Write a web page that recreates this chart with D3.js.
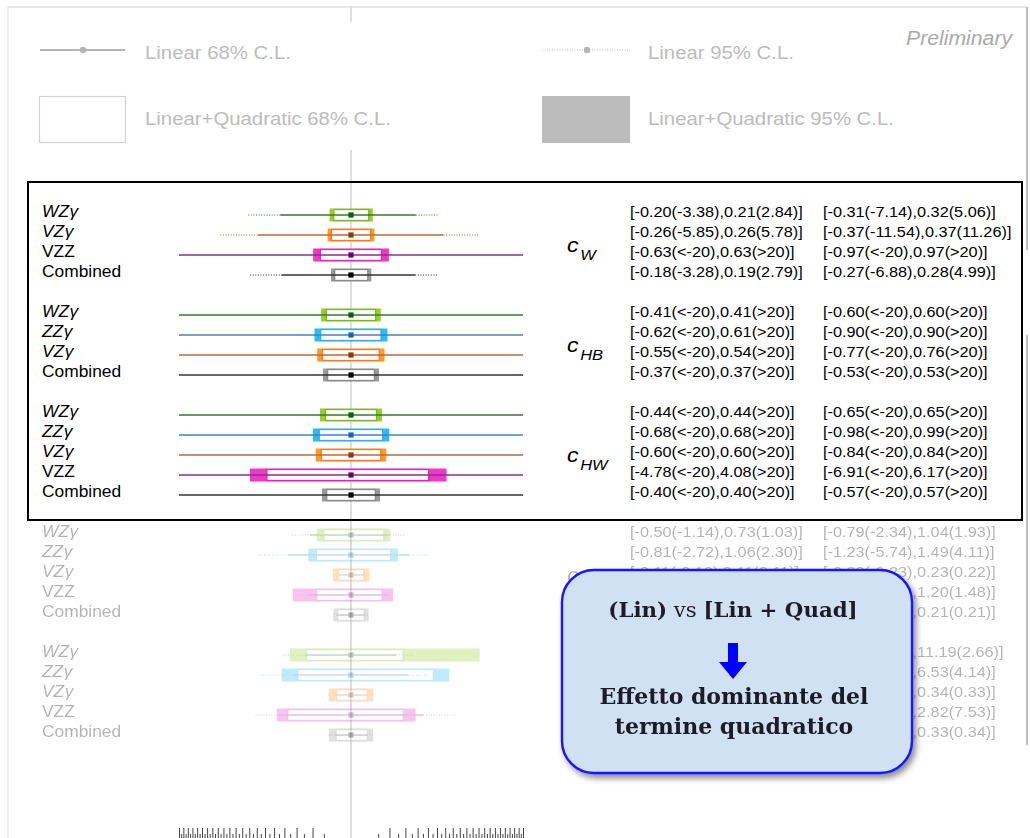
<!DOCTYPE html>
<html>
<head>
<meta charset="utf-8">
<script src="https://cdn.jsdelivr.net/npm/d3@7"></script>
<style>
  html, body { margin: 0; padding: 0; background: #fff; }
  svg { display: block; }
</style>
</head>
<body>
<svg id="chart" width="1030" height="838"></svg>
<script>
// ---- data -------------------------------------------------------------
// Coefficients (one block each) and the processes fitted in every block
const coefficients = ["W", "HB", "HW", "WWW", "B"];
const blockProcesses = [
  ["WZγ", "VZγ", "VZZ", "Combined"],
  ["WZγ", "ZZγ", "VZγ", "Combined"],
  ["WZγ", "ZZγ", "VZγ", "VZZ", "Combined"],
  ["WZγ", "ZZγ", "VZγ", "VZZ", "Combined"],
  ["WZγ", "ZZγ", "VZγ", "VZZ", "Combined"]
];
const INF = Infinity;
// Linear+Quadratic 68% C.L. interval [lo, hi]
const quad68 = [
  [[-0.20, 0.21], [-0.26, 0.26], [-0.63, 0.63], [-0.18, 0.19]],
  [[-0.41, 0.41], [-0.62, 0.61], [-0.55, 0.54], [-0.37, 0.37]],
  [[-0.44, 0.44], [-0.68, 0.68], [-0.60, 0.60], [-4.78, 4.08], [-0.40, 0.40]],
  [[-0.50, 0.73], [-0.81, 1.06], [-0.11, 0.11], [-0.79, 0.66], [-0.12, 0.12]],
  [[-1.32, 1.84], [-1.91, 4.58], [-0.14, 0.18], [-2.71, 1.84], [-0.15, 0.18]]
];
// Linear 68% C.L. interval
const lin68 = [
  [[-3.38, 2.84], [-5.85, 5.78], [-INF, INF], [-3.28, 2.79]],
  [[-INF, INF], [-INF, INF], [-INF, INF], [-INF, INF]],
  [[-INF, INF], [-INF, INF], [-INF, INF], [-INF, INF], [-INF, INF]],
  [[-1.14, 1.03], [-2.72, 2.30], [-0.12, 0.11], [-1.26, 0.97], [-0.12, 0.12]],
  [[-1.40, 1.38], [-2.25, 2.21], [-0.17, 0.17], [-3.60, 3.53], [-0.17, 0.17]]
];
// Linear+Quadratic 95% C.L. interval
const quad95 = [
  [[-0.31, 0.32], [-0.37, 0.37], [-0.97, 0.97], [-0.27, 0.28]],
  [[-0.60, 0.60], [-0.90, 0.90], [-0.77, 0.76], [-0.53, 0.53]],
  [[-0.65, 0.65], [-0.98, 0.99], [-0.84, 0.84], [-6.91, 6.17], [-0.57, 0.57]],
  [[-0.79, 1.04], [-1.23, 1.49], [-0.22, 0.23], [-2.29, 1.20], [-0.21, 0.21]],
  [[-2.54, 11.19], [-3.25, 6.53], [-0.33, 0.34], [-3.73, 2.82], [-0.33, 0.33]]
];
// Linear 95% C.L. interval
const lin95 = [
  [[-7.14, 5.06], [-11.54, 11.26], [-INF, INF], [-6.88, 4.99]],
  [[-INF, INF], [-INF, INF], [-INF, INF], [-INF, INF]],
  [[-INF, INF], [-INF, INF], [-INF, INF], [-INF, INF], [-INF, INF]],
  [[-2.34, 1.93], [-5.74, 4.11], [-0.23, 0.22], [-1.87, 1.48], [-0.21, 0.21]],
  [[-3.15, 2.66], [-5.90, 4.14], [-0.35, 0.33], [-6.15, 7.53], [-0.34, 0.34]]
];
const bestFit = 0;
const axisLimit = 20;
const tickStep = 0.5;
const legendLabels = ["Linear 68% C.L.", "Linear 95% C.L.",
                      "Linear+Quadratic 68% C.L.", "Linear+Quadratic 95% C.L."];
const calloutLines = ["Effetto dominante del", "termine quadratico"];

// ---- styles -----------------------------------------------------------
const processStyle = {
  "WZγ":      { line: "#2f7d2a", fill: "#9acd2a", stroke: "#7cb43a", dot: "#0b5e0b", italic: true },
  "ZZγ":      { line: "#3f82c2", fill: "#26bdf8", stroke: "#43a6e6", dot: "#1d5fc4", italic: true },
  "VZγ":      { line: "#b8683a", fill: "#ff9a22", stroke: "#ee7c32", dot: "#8a3a0c", italic: true },
  "VZZ":      { line: "#8b2f8b", fill: "#ee38c8", stroke: "#cf2fb5", dot: "#5c0c5c", italic: false },
  "Combined": { line: "#333333", fill: "#9a9a9a", stroke: "#8a8a8a", dot: "#000000", italic: false }
};
const SX = 1.1;            // horizontal stretch of the figure lettering
const FONT = "'Liberation Sans', Arial, Helvetica, sans-serif";

const svg = d3.select("#chart");
const defs = svg.append("defs");
const shadow = defs.append("filter").attr("id", "shadow")
  .attr("x", "-10%").attr("y", "-10%").attr("width", "130%").attr("height", "130%");
shadow.append("feDropShadow").attr("dx", 3).attr("dy", 4)
  .attr("stdDeviation", 3).attr("flood-color", "#000").attr("flood-opacity", 0.45);

// ---- scales -----------------------------------------------------------
const x = d3.scalePow().exponent(0.5)
  .domain([-axisLimit, axisLimit]).range([179, 523]).clamp(true);
const xv = v => x(Math.max(-axisLimit, Math.min(axisLimit, v)));
const slotY = d3.scaleLinear().domain([0, 1]).range([215, 235]);

// flatten rows into slots: one empty slot between blocks
const rows = [];
let slot = 0;
const blockInfo = [];
blockProcesses.forEach((procs, b) => {
  const first = slot;
  procs.forEach((p, i) => {
    rows.push({ block: b, proc: p, slot,
      q68: quad68[b][i], l68: lin68[b][i], q95: quad95[b][i], l95: lin95[b][i] });
    slot++;
  });
  blockInfo.push({ block: b, first, last: slot - 1 });
  slot++;
});

function stext(g, px, py, str) {
  return g.append("text")
    .attr("transform", `translate(${px},${py}) scale(${SX},1)`)
    .attr("font-family", FONT)
    .text(str);
}
const fmt = v => v === -INF ? "<-20" : v === INF ? ">20" : v.toFixed(2);
const intervalText = (q, l) => `[${fmt(q[0])}(${fmt(l[0])}),${fmt(q[1])}(${fmt(l[1])})]`;

// ---- slide frame -------------------------------------------------------
const frame = svg.append("g");
frame.append("line").attr("x1", 8).attr("x2", 1027).attr("y1", 7).attr("y2", 7)
  .attr("stroke", "#cfcfcf").attr("stroke-width", 1.2);
frame.append("line").attr("x1", 8).attr("x2", 8).attr("y1", 7).attr("y2", 838)
  .attr("stroke", "#e2e2e2").attr("stroke-width", 1.2);
frame.append("line").attr("x1", 1027).attr("x2", 1027).attr("y1", 7).attr("y2", 250)
  .attr("stroke", "#bdbdbd").attr("stroke-width", 2);
frame.append("line").attr("x1", 1027).attr("x2", 1027).attr("y1", 335).attr("y2", 745)
  .attr("stroke", "#bdbdbd").attr("stroke-width", 2);

// zero reference line
const zeroLine = svg.append("g");
zeroLine.append("line").attr("x1", x(0)).attr("x2", x(0)).attr("y1", 7).attr("y2", 22)
  .attr("stroke", "#d6d6d6").attr("stroke-width", 1.6);
zeroLine.append("line").attr("x1", x(0)).attr("x2", x(0)).attr("y1", 150).attr("y2", 838)
  .attr("stroke", "#d6d6d6").attr("stroke-width", 1.6);

// ---- legend (greyed) ---------------------------------------------------
const legend = svg.append("g");
legend.append("line").attr("x1", 40).attr("x2", 125).attr("y1", 50).attr("y2", 50)
  .attr("stroke", "#b5b5b5").attr("stroke-width", 2);
legend.append("circle").attr("cx", 83).attr("cy", 50).attr("r", 3.2).attr("fill", "#b5b5b5");
legend.append("line").attr("x1", 542).attr("x2", 630).attr("y1", 50).attr("y2", 50)
  .attr("stroke", "#c0c0c0").attr("stroke-width", 1).attr("stroke-dasharray", "1,1.5");
legend.append("circle").attr("cx", 587).attr("cy", 50).attr("r", 3.2).attr("fill", "#b5b5b5");
legend.append("rect").attr("x", 39.5).attr("y", 96.5).attr("width", 86).attr("height", 46)
  .attr("fill", "#fff").attr("stroke", "#d2d2d2").attr("stroke-width", 1.2);
legend.append("rect").attr("x", 542).attr("y", 96).attr("width", 88).attr("height", 47)
  .attr("fill", "#bcbcbc");
[[145, 59], [648, 59], [145, 125], [648, 125]].forEach((p, i) => {
  stext(legend, p[0], p[1], legendLabels[i]).attr("font-size", 18.5).attr("fill", "#bcbcbc");
});
stext(svg, 906, 45, "Preliminary").attr("font-size", 19.3)
  .attr("font-style", "italic").attr("fill", "#ababab");

// ---- blocks ------------------------------------------------------------
const blockGroups = blockInfo.map(bi =>
  svg.append("g").attr("opacity", bi.block >= 3 ? 0.3 : 1));

rows.forEach(r => {
  const g = blockGroups[r.block];
  const y = slotY(r.slot);
  const st = processStyle[r.proc];
  const h95 = 13, h68 = 11;

  // Linear+Quadratic 95% band
  g.append("rect")
    .attr("x", xv(r.q95[0])).attr("width", xv(r.q95[1]) - xv(r.q95[0]))
    .attr("y", y - h95 / 2).attr("height", h95)
    .attr("fill", st.fill);
  // Linear+Quadratic 68% box
  g.append("rect")
    .attr("x", xv(r.q68[0])).attr("width", xv(r.q68[1]) - xv(r.q68[0]))
    .attr("y", y - h68 / 2).attr("height", h68)
    .attr("fill", "#fff").attr("stroke", st.stroke).attr("stroke-width", 1.3);

  // Linear 95% (dotted) and 68% (solid) intervals
  g.append("line")
    .attr("x1", xv(r.l95[0])).attr("x2", xv(r.l68[0])).attr("y1", y).attr("y2", y)
    .attr("stroke", st.line).attr("stroke-width", 1).attr("stroke-dasharray", "1,1.6");
  g.append("line")
    .attr("x1", xv(r.l68[1])).attr("x2", xv(r.l95[1])).attr("y1", y).attr("y2", y)
    .attr("stroke", st.line).attr("stroke-width", 1).attr("stroke-dasharray", "1,1.6");
  g.append("line")
    .attr("x1", xv(r.l68[0])).attr("x2", xv(r.l68[1])).attr("y1", y).attr("y2", y)
    .attr("stroke", st.line).attr("stroke-width", 1.3);

  // best-fit point
  g.append("rect")
    .attr("x", x(bestFit) - 2.6).attr("y", y - 2.6).attr("width", 5.2).attr("height", 5.2)
    .attr("fill", st.dot);

  // process label
  const m = r.proc.match(/^(.*?)(γ?)$/);
  const lt = stext(g, 42, y + 2, m[1]).attr("font-size", 15.8).attr("fill", "#000")
    .attr("font-style", st.italic ? "italic" : "normal");
  if (m[2]) lt.append("tspan").text(m[2]).attr("dx", 0.5);

  // interval values
  stext(g, 630, y + 2, intervalText(r.q68, r.l68)).attr("font-size", 14.8).attr("fill", "#000");
  stext(g, 823, y + 2, intervalText(r.q95, r.l95)).attr("font-size", 14.8).attr("fill", "#000");
});

// coefficient names
blockInfo.forEach(bi => {
  const yc = (slotY(bi.first) + slotY(bi.last)) / 2;
  const t = blockGroups[bi.block].append("text")
    .attr("transform", `translate(567,${yc + 7}) scale(${SX},1)`)
    .attr("font-family", FONT).attr("font-style", "italic").attr("fill", "#000");
  t.append("tspan").text("c").attr("font-size", 21);
  t.append("tspan").text(coefficients[bi.block]).attr("font-size", 15)
    .attr("dx", 1.5).attr("dy", 8);
});

// highlight frame around the first three blocks
svg.append("rect")
  .attr("x", 28).attr("y", 182)
  .attr("width", 994).attr("height", slotY(blockInfo[2].last) + 25 - 182)
  .attr("fill", "none").attr("stroke", "#000").attr("stroke-width", 2);

// ---- sqrt-scale axis ticks (axis line sits just below the view) -------
const tickVals = d3.range(tickStep, axisLimit + 0.001, tickStep);
const allTicks = tickVals.map(v => -v).concat(tickVals);
const majorTicks = allTicks.filter(v => Number.isInteger(v));
const minorTicks = allTicks.filter(v => !Number.isInteger(v));
const axisY = 840;
const axMajor = svg.append("g").attr("transform", `translate(0,${axisY})`)
  .call(d3.axisTop(x).tickValues(majorTicks).tickSize(12).tickSizeOuter(0).tickFormat(""));
const axMinor = svg.append("g").attr("transform", `translate(0,${axisY})`)
  .call(d3.axisTop(x).tickValues(minorTicks).tickSize(6).tickSizeOuter(0).tickFormat(""));
[axMajor, axMinor].forEach(a => {
  a.select(".domain").remove();
  a.selectAll("line").attr("stroke", "#444").attr("stroke-width", 1);
});

// ---- callout -----------------------------------------------------------
const call = svg.append("g");
call.append("rect").attr("x", 562).attr("y", 570).attr("width", 350).attr("height", 203)
  .attr("rx", 32).attr("ry", 32)
  .attr("fill", "#cfe1f3").attr("stroke", "#1414ff").attr("stroke-width", 2.4)
  .attr("filter", "url(#shadow)");
const SERIF = "'DejaVu Serif', Georgia, serif";
const l1 = call.append("text").attr("x", 733).attr("y", 617)
  .attr("text-anchor", "middle").attr("font-family", SERIF)
  .attr("font-size", 21.3).attr("fill", "#1c1c28");
l1.append("tspan").text("(Lin)").attr("font-weight", "bold");
l1.append("tspan").text(" vs ").attr("font-weight", "normal");
l1.append("tspan").text("[Lin + Quad]").attr("font-weight", "bold");
calloutLines.forEach((s, i) => {
  call.append("text").attr("x", 734).attr("y", 704 + i * 30)
    .attr("text-anchor", "middle").attr("font-family", SERIF)
    .attr("font-size", 22).attr("font-weight", "bold").attr("fill", "#1c1c28").text(s);
});
// down arrow
const ax0 = 733;
call.append("path")
  .attr("d", `M${ax0 - 5},643 L${ax0 + 5},643 L${ax0 + 5},662 L${ax0 + 14},662 L${ax0},679 L${ax0 - 14},662 L${ax0 - 5},662 Z`)
  .attr("fill", "#0000ff");
</script>
</body>
</html>
